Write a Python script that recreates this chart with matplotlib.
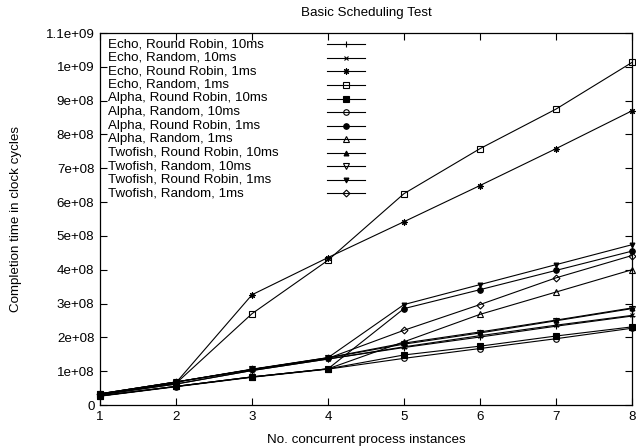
import numpy as np
import matplotlib.pyplot as plt
from matplotlib.ticker import FuncFormatter, MultipleLocator

plt.rcParams['font.family'] = ['Liberation Sans', 'DejaVu Sans']

x = [1, 2, 3, 4, 5, 6, 7, 8]

labels = ['Echo, Round Robin, 10ms', 'Echo, Random, 10ms',
          'Echo, Round Robin, 1ms', 'Echo, Random, 1ms',
          'Alpha, Round Robin, 10ms', 'Alpha, Random, 10ms',
          'Alpha, Round Robin, 1ms', 'Alpha, Random, 1ms',
          'Twofish, Round Robin, 10ms', 'Twofish, Random, 10ms',
          'Twofish, Round Robin, 1ms', 'Twofish, Random, 1ms']

# values in units of 1e8 clock cycles
echo_rr_10 = [0.30, 0.62, 1.02, 1.36, 1.70, 2.01, 2.33, 2.63]
echo_rnd_10 = [0.30, 0.62, 1.02, 1.36, 1.72, 2.05, 2.36, 2.65]
echo_rr_1 = [0.32, 0.66, 3.26, 4.36, 5.42, 6.49, 7.58, 8.70]
echo_rnd_1 = [0.32, 0.64, 2.70, 4.28, 6.25, 7.58, 8.75, 10.13]
alpha_rr_10 = [0.27, 0.55, 0.83, 1.07, 1.48, 1.74, 2.04, 2.31]
alpha_rnd_10 = [0.26, 0.54, 0.82, 1.06, 1.38, 1.67, 1.96, 2.27]
alpha_rr_1 = [0.27, 0.55, 0.83, 1.07, 2.85, 3.41, 3.98, 4.55]
alpha_rnd_1 = [0.27, 0.55, 0.83, 1.07, 1.87, 2.68, 3.34, 4.00]
twofish_rr_10 = [0.33, 0.68, 1.05, 1.40, 1.83, 2.16, 2.51, 2.87]
twofish_rnd_10 = [0.33, 0.68, 1.05, 1.39, 1.80, 2.13, 2.49, 2.85]
twofish_rr_1 = [0.33, 0.68, 1.06, 1.40, 2.97, 3.56, 4.15, 4.74]
twofish_rnd_1 = [0.33, 0.68, 1.05, 1.38, 2.21, 2.97, 3.76, 4.42]

series = [echo_rr_10, echo_rnd_10, echo_rr_1, echo_rnd_1,
          alpha_rr_10, alpha_rnd_10, alpha_rr_1, alpha_rnd_1,
          twofish_rr_10, twofish_rnd_10, twofish_rr_1, twofish_rnd_1]

# (marker, filled, size)
styles = [('+', True, 4.5), ('x', True, 3.5), ((8, 2, 0), True, 4.5), ('s', False, 4),
          ('s', True, 4), ('o', False, 4), ('o', True, 4), ('^', False, 4),
          ('^', True, 3.5), ('v', False, 4), ('v', True, 3.5), ('D', False, 3.5)]

fig = plt.figure(figsize=(6.36, 4.46), dpi=100)
ax = fig.add_axes([100/636, 1 - 405/446, 532/636, 372/446])

for vals, (m, filled, ms) in zip(series, styles):
    y = np.array(vals) * 1e8
    ax.plot(x, y, color='black', lw=0.8, marker=m, ms=ms,
            mfc='black' if filled else 'none', mec='black', mew=0.8, clip_on=False)

# gnuplot style key: labels left, samples right
for i, (lab, (m, filled, ms)) in enumerate(zip(labels, styles)):
    py = 44.3 + 13.55 * i
    fy = (405 - py) / 372
    ax.text(0.015, fy, lab, transform=ax.transAxes, fontsize=9.6,
            va='center', ha='left')
    ax.plot([0.427, 0.4625, 0.498], [fy, fy, fy], transform=ax.transAxes,
            color='black', lw=0.8, marker=m, ms=ms, markevery=[1],
            mfc='black' if filled else 'none', mec='black', mew=0.8)

ax.set_xlim(1, 8)
ax.set_ylim(0, 1.1e9)
ax.xaxis.set_major_locator(MultipleLocator(1))
ax.yaxis.set_major_locator(MultipleLocator(1e8))
ax.yaxis.set_major_formatter(FuncFormatter(lambda v, p: '%g' % v))
ax.tick_params(direction='in', top=True, right=True, length=5, width=0.8,
               labelsize=9.6, pad=4)
for s in ax.spines.values():
    s.set_linewidth(0.9)

ax.set_title('Basic Scheduling Test', fontsize=9.6, pad=12)
ax.set_xlabel('No. concurrent process instances', fontsize=9.6, labelpad=8)
ax.set_ylabel('Completion time in clock cycles', fontsize=9.6, labelpad=17)

fig.savefig('out.png', dpi=100)
